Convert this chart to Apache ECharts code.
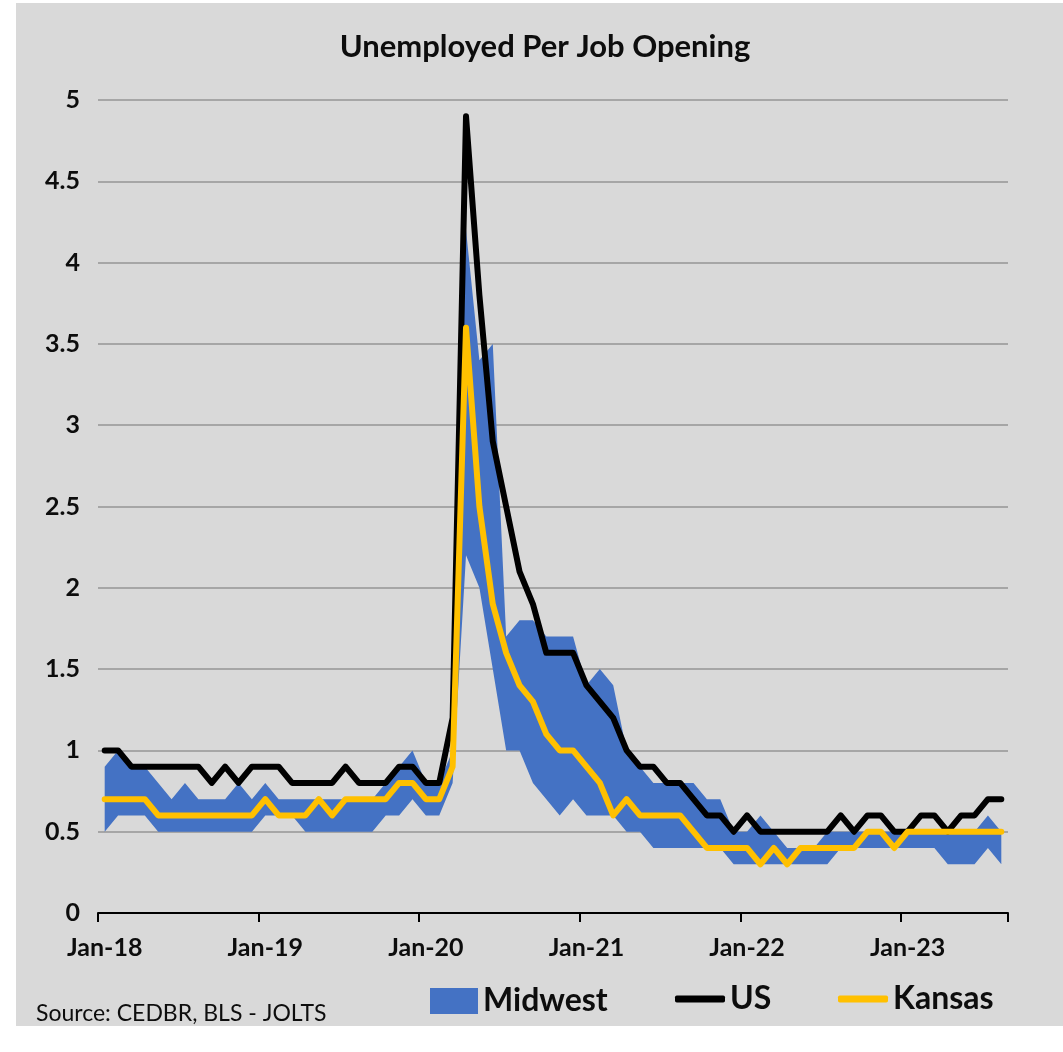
<!DOCTYPE html>
<html>
<head>
<meta charset="utf-8">
<script src="https://cdn.jsdelivr.net/npm/echarts@6/dist/echarts.min.js"></script>
<style>
  html, body { margin: 0; padding: 0; background: #ffffff; }
  #chart { width: 1063px; height: 1052px; }
</style>
</head>
<body>
<div id="chart"></div>
<script>
// Monthly categories, Jan-2018 through Aug-2023
const monthNames = ['Jan','Feb','Mar','Apr','May','Jun','Jul','Aug','Sep','Oct','Nov','Dec'];
const years = ['18','19','20','21','22','23'];
const lastMonthIndex = 7; // Aug of the final year
const categories = [];
years.forEach((yy, yi) => {
  monthNames.forEach((m, mi) => {
    if (yi < years.length - 1 || mi <= lastMonthIndex) categories.push(m + '-' + yy);
  });
});

// Unemployed persons per job opening, United States
const usValues = [
  1.0, 1.0, 0.9, 0.9, 0.9, 0.9, 0.9, 0.9, 0.8, 0.9, 0.8, 0.9,
  0.9, 0.9, 0.8, 0.8, 0.8, 0.8, 0.9, 0.8, 0.8, 0.8, 0.9, 0.9,
  0.8, 0.8, 1.2, 4.9, 3.8, 2.9, 2.5, 2.1, 1.9, 1.6, 1.6, 1.6,
  1.4, 1.3, 1.2, 1.0, 0.9, 0.9, 0.8, 0.8, 0.7, 0.6, 0.6, 0.5,
  0.6, 0.5, 0.5, 0.5, 0.5, 0.5, 0.5, 0.6, 0.5, 0.6, 0.6, 0.5,
  0.5, 0.6, 0.6, 0.5, 0.6, 0.6, 0.7, 0.7
];

// Kansas
const kansasValues = [
  0.7, 0.7, 0.7, 0.7, 0.6, 0.6, 0.6, 0.6, 0.6, 0.6, 0.6, 0.6,
  0.7, 0.6, 0.6, 0.6, 0.7, 0.6, 0.7, 0.7, 0.7, 0.7, 0.8, 0.8,
  0.7, 0.7, 0.9, 3.6, 2.5, 1.9, 1.6, 1.4, 1.3, 1.1, 1.0, 1.0,
  0.9, 0.8, 0.6, 0.7, 0.6, 0.6, 0.6, 0.6, 0.5, 0.4, 0.4, 0.4,
  0.4, 0.3, 0.4, 0.3, 0.4, 0.4, 0.4, 0.4, 0.4, 0.5, 0.5, 0.4,
  0.5, 0.5, 0.5, 0.5, 0.5, 0.5, 0.5, 0.5
];

// Midwest states: lowest and highest ratio each month
const midwestLow = [
  0.5, 0.6, 0.6, 0.6, 0.5, 0.5, 0.5, 0.5, 0.5, 0.5, 0.5, 0.5,
  0.6, 0.6, 0.6, 0.5, 0.5, 0.5, 0.5, 0.5, 0.5, 0.6, 0.6, 0.7,
  0.6, 0.6, 0.8, 2.2, 2.0, 1.5, 1.0, 1.0, 0.8, 0.7, 0.6, 0.7,
  0.6, 0.6, 0.6, 0.5, 0.5, 0.4, 0.4, 0.4, 0.4, 0.4, 0.4, 0.3,
  0.3, 0.3, 0.3, 0.3, 0.3, 0.3, 0.3, 0.4, 0.4, 0.4, 0.4, 0.4,
  0.4, 0.4, 0.4, 0.3, 0.3, 0.3, 0.4, 0.3
];
const midwestHigh = [
  0.9, 1.0, 0.9, 0.9, 0.8, 0.7, 0.8, 0.7, 0.7, 0.7, 0.8, 0.7,
  0.8, 0.7, 0.7, 0.7, 0.7, 0.7, 0.7, 0.7, 0.7, 0.8, 0.9, 1.0,
  0.8, 0.8, 1.0, 4.2, 3.4, 3.5, 1.7, 1.8, 1.8, 1.7, 1.7, 1.7,
  1.4, 1.5, 1.4, 1.0, 0.9, 0.8, 0.8, 0.8, 0.8, 0.7, 0.7, 0.5,
  0.5, 0.6, 0.5, 0.4, 0.4, 0.4, 0.5, 0.5, 0.5, 0.5, 0.5, 0.5,
  0.5, 0.5, 0.5, 0.5, 0.5, 0.5, 0.6, 0.5
];

// Band thickness stacked on top of the lower edge
const midwestSpan = midwestHigh.map((v, i) => +(v - midwestLow[i]).toFixed(2));

const FONT = 'Lato';
const INK = '#0d0d0d';
const BLUE = '#4472C4';
const GOLD = '#FFC000';

const chart = echarts.init(document.getElementById('chart'), null, { renderer: 'canvas' });

const legendText = { fontFamily: FONT, fontWeight: 'bold', fontSize: 32, color: INK };

chart.setOption({
  backgroundColor: '#ffffff',
  animation: false,
  graphic: [
    { type: 'rect', z: -100, shape: { x: 16, y: 3, width: 1047, height: 1023 }, style: { fill: '#D9D9D9' } },
    { type: 'text', x: 545, y: 47, style: { text: 'Unemployed Per Job Opening', textAlign: 'center', textVerticalAlign: 'middle',
        font: 'bold 31px ' + FONT, fill: INK } },
    { type: 'text', x: 36, y: 1014, style: { text: 'Source: CEDBR, BLS - JOLTS', textAlign: 'left', textVerticalAlign: 'middle',
        font: '23px ' + FONT, fill: INK } }
  ],
  grid: { left: 98, right: 55, top: 100, bottom: 139, containLabel: false },
  legend: [
    { left: 430, top: 985, itemWidth: 48, itemHeight: 26, itemGap: 0, textStyle: legendText, padding: 0,
      data: [{ name: 'Midwest', icon: 'rect' }] },
    { left: 675, top: 983, itemWidth: 50, itemHeight: 7, itemGap: 0, textStyle: legendText, padding: 0,
      data: [{ name: 'US', icon: 'roundRect' }] },
    { left: 838, top: 983, itemWidth: 50, itemHeight: 7, itemGap: 0, textStyle: legendText, padding: 0,
      data: [{ name: 'Kansas', icon: 'roundRect' }] }
  ],
  xAxis: {
    type: 'category',
    data: categories,
    boundaryGap: true,
    axisLine: { show: true, lineStyle: { color: '#000000', width: 2 } },
    axisTick: { show: true, interval: 11, length: 9, lineStyle: { color: '#000000', width: 2 } },
    axisLabel: { interval: 11, margin: 22, fontFamily: FONT, fontWeight: 'bold', fontSize: 25, color: INK },
    splitLine: { show: false }
  },
  yAxis: {
    type: 'value',
    min: 0,
    max: 5,
    interval: 0.5,
    axisLine: { show: false },
    axisTick: { show: false },
    axisLabel: { margin: 18, fontFamily: FONT, fontWeight: 'bold', fontSize: 25, color: INK },
    splitLine: { show: true, lineStyle: { color: '#A6A6A6', width: 2 } }
  },
  series: [
    {
      name: 'MidwestLow', type: 'line', stack: 'midwest', data: midwestLow,
      symbol: 'none', silent: true, lineStyle: { opacity: 0, width: 0 }, z: 1
    },
    {
      name: 'Midwest', type: 'line', stack: 'midwest', data: midwestSpan,
      symbol: 'none', silent: true, color: BLUE, itemStyle: { color: BLUE },
      lineStyle: { opacity: 0, width: 0 }, areaStyle: { color: BLUE, opacity: 1 }, z: 1
    },
    {
      name: 'US', type: 'line', data: usValues, symbol: 'none', color: '#000000',
      itemStyle: { color: '#000000' },
      lineStyle: { color: '#000000', width: 6, cap: 'round', join: 'round' }, z: 3
    },
    {
      name: 'Kansas', type: 'line', data: kansasValues, symbol: 'none', color: GOLD,
      itemStyle: { color: GOLD },
      lineStyle: { color: GOLD, width: 6, cap: 'round', join: 'round' }, z: 4
    }
  ]
});
</script>
</body>
</html>
